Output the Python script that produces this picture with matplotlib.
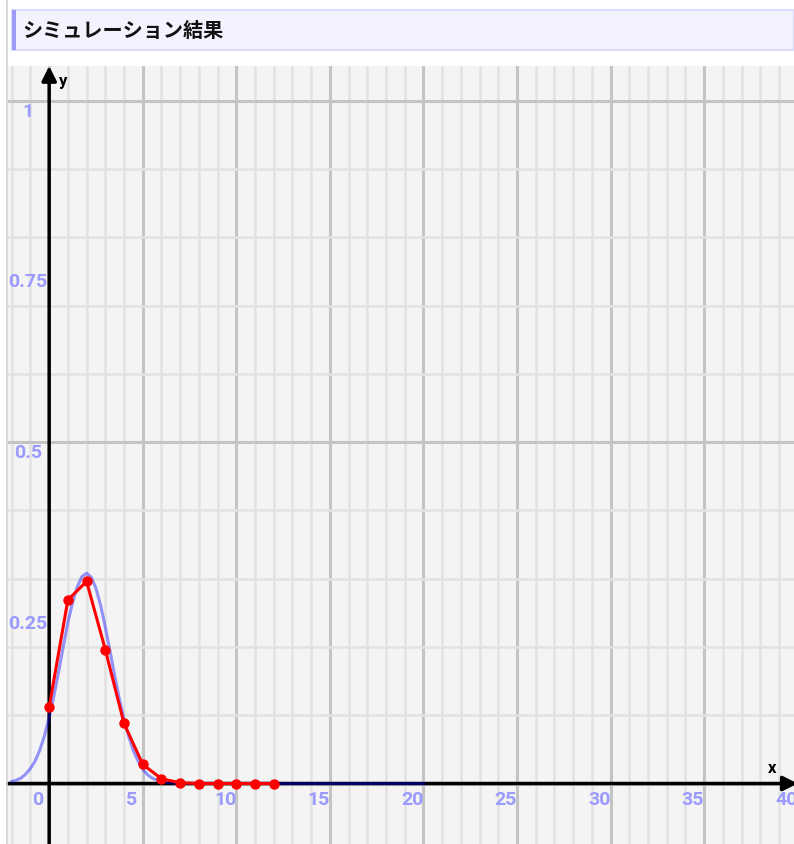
import matplotlib
matplotlib.use("Agg")
from matplotlib import pyplot as plt
from matplotlib.patches import Rectangle
from matplotlib.lines import Line2D

plt.rcParams['font.family'] = ['Roboto', 'Noto Sans CJK JP', 'DejaVu Sans']

# Simulation results (red points)
sim_x = [0, 1, 2, 3, 4, 5, 6, 7, 8, 9, 10, 11, 12]
sim_y = [0.112, 0.269, 0.296, 0.196, 0.088, 0.028, 0.007, 0.001, 0, 0, 0, 0, 0]

# Theoretical curve (blue)
curve_x = [-2, -1.75, -1.5, -1.25, -1, -0.75, -0.5, -0.25, 0, 0.25, 0.5, 0.75,
           1, 1.25, 1.5, 1.75, 2, 2.25, 2.5, 2.75, 3, 3.25, 3.5, 3.75, 4,
           4.25, 4.5, 4.75, 5, 5.25, 5.5, 5.75, 6, 6.5, 7, 20]
curve_y = [0.003, 0.005, 0.008, 0.014, 0.022, 0.033, 0.049, 0.070, 0.097, 0.128,
           0.163, 0.200, 0.236, 0.265, 0.288, 0.303, 0.308, 0.302, 0.286, 0.261,
           0.229, 0.194, 0.158, 0.124, 0.094, 0.069, 0.048, 0.033, 0.021, 0.013,
           0.008, 0.005, 0.003, 0.001, 0.0002, 0]

x_labels = [0, 5, 10, 15, 20, 25, 30, 35, 40]
y_labels = [0.25, 0.5, 0.75, 1]
y_label_text = ["0.25", "0.5", "0.75", "1"]

W, H = 794, 845
fig = plt.figure(figsize=(W / 100, H / 100), dpi=100)
fig.patch.set_facecolor("white")

# header box
fig.add_artist(Rectangle((12 / W, 1 - 51 / H), (W - 12) / W, 40 / H,
                         transform=fig.transFigure, facecolor="#f3f3ff",
                         edgecolor="#dcdcff", linewidth=1.5))
fig.add_artist(Rectangle((12 / W, 1 - 51 / H), 4 / W, 40 / H,
                         transform=fig.transFigure, facecolor="#9c9cf5",
                         edgecolor="none"))
fig.text(22 / W, 1 - 30 / H, "シミュレーション結果", fontsize=14.5, fontweight="bold",
         family=['Noto Sans CJK JP', 'DejaVu Sans'], va="center", ha="left", color="#111111")
# container border
fig.add_artist(Line2D([7 / W, 7 / W], [0, 1], transform=fig.transFigure,
                      color="#d0d0d0", linewidth=1.2))

ax = fig.add_axes([8 / W, 0, (W - 8) / W, (H - 67) / H])
ax.set_facecolor("#f4f4f4")
ax.set_xlim(-2.2, 39.8)
ax.set_ylim(-0.0886, 1.051)
for s in ax.spines.values():
    s.set_visible(False)
ax.set_xticks([])
ax.set_yticks([])

# grid
for gx in range(-2, 40):
    major = gx % 5 == 0
    ax.axvline(gx, color="#c4c4c4" if major else "#e2e2e2", lw=2.2 if major else 1.8, zorder=1)
for i in range(0, 11):
    gy = i / 10
    major = i % 5 == 0
    ax.axhline(gy, color="#c4c4c4" if major else "#e2e2e2", lw=2.2 if major else 1.8, zorder=1)

# axes with arrows
ax.annotate("", xy=(40.0, 0), xytext=(-2.2, 0), annotation_clip=False,
            arrowprops=dict(arrowstyle="-|>", lw=2.5, color="black", mutation_scale=22,
                            shrinkA=0, shrinkB=0), zorder=3)
ax.annotate("", xy=(0, 1.051), xytext=(0, -0.0886), annotation_clip=False,
            arrowprops=dict(arrowstyle="-|>", lw=2.5, color="black", mutation_scale=22,
                            shrinkA=0, shrinkB=0), zorder=3)
ax.annotate("x", xy=(39.8, 0), xytext=(-16, 6), textcoords="offset points",
            fontsize=12, fontweight="bold", ha="center", va="bottom", annotation_clip=False)
ax.annotate("y", xy=(0, 1.051), xytext=(10, -5), textcoords="offset points",
            fontsize=12, fontweight="bold", ha="center", va="top")

# tick labels
lab_color = "#9a9aff"
for v in x_labels:
    ax.annotate(str(v), xy=(v, 0), xytext=(-8, -11.5), textcoords="offset points",
                fontsize=14, fontweight="bold", color=lab_color, ha="center", va="center",
                annotation_clip=False)
for v, t in zip(y_labels, y_label_text):
    ax.annotate(t, xy=(0, v), xytext=(-15.5, -7.2), textcoords="offset points",
                fontsize=14, fontweight="bold", color=lab_color, ha="center", va="center",
                annotation_clip=False, clip_on=True)

# data
ax.plot(curve_x, curve_y, color="#0000ff", alpha=0.4, lw=2.2, zorder=4)
ax.plot(sim_x, sim_y, color="#ff0000", lw=2.2, marker="o", markersize=6.5, zorder=5)

fig.savefig("out.png", dpi=100)
